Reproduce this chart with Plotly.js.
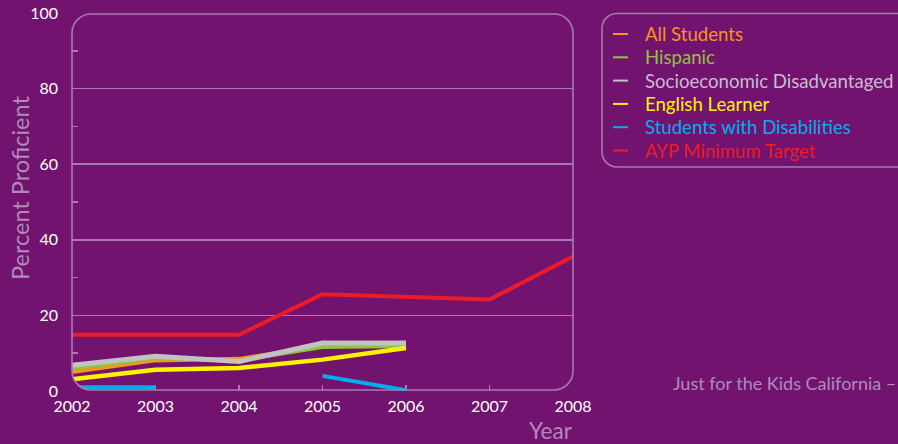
<!DOCTYPE html>
<html>
<head>
<meta charset="utf-8">
<script src="https://cdn.plot.ly/plotly-3.0.1.min.js"></script>
<style>html,body{margin:0;padding:0;background:#72146f;}#chart{width:898px;height:444px;}</style>
</head>
<body>
<div id="chart"></div>
<script>
// ---- data ----
const years = [2002, 2003, 2004, 2005, 2006, 2007, 2008];
const allStudents    = [5.0, 8.1, 8.5, 12.0, 12.0, null, null];
const hispanic       = [5.9, 8.6, 8.0, 11.5, 11.8, null, null];
const socioeconomic  = [6.8, 9.2, 7.8, 12.7, 12.7, null, null];
const englishLearner = [3.1, 5.6, 6.1, 8.3, 11.4, null, null];
const disabilities   = [1.0, 1.0, null, 4.0, 0.2, null, null];
const aypTarget      = [14.9, 14.9, 14.9, 25.6, 25.0, 24.2, 35.6];

const seriesNames = ['All Students', 'Hispanic', 'Socioeconomic Disadvantaged', 'English Learner', 'Students with Disabilities', 'AYP Minimum Target'];
const seriesValues = [allStudents, hispanic, socioeconomic, englishLearner, disabilities, aypTarget];
const yTickVals = [0, 20, 40, 60, 80, 100];
const yTickText = ['0', '20', '40', '60', '80', '100'];
const xTickText = years.map(String);
const yTitle = 'Percent Proficient';
const xTitle = 'Year';
const sourceText = 'Just for the Kids California \u2013';

// ---- styles ----
const bg = '#72146f';
const frameColor = '#a97aae';
const lavender = '#b08abb';
const lineColors = ['#f7941d', '#8dc63f', '#c2c2c2', '#fff200', '#00aeef', '#ed1c24'];
const textColors = ['#f7941d', '#8dc63f', '#c9bccd', '#fff200', '#00aeef', '#ed1c24'];
const lineWidths = [4, 3, 5, 4.5, 4, 4];
const drawOrder = [5, 0, 1, 2, 3, 4];
const FONT = 'Lato, "Open Sans", sans-serif';

// plot area in pixels
const L = 72, R = 573, T = 13, B = 391, W = 898, H = 444;
const pw = R - L, ph = B - T;
const px = v => (v - L) / pw;
const py = v => (B - v) / ph;
const P = (x, y) => `${px(x)},${py(y)}`;

const traces = drawOrder.map(i => ({
  type: 'scatter', mode: 'lines', x: years, y: seriesValues[i], name: seriesNames[i],
  line: {color: lineColors[i], width: lineWidths[i]}, connectgaps: false,
  showlegend: false, hoverinfo: 'x+y+name'
}));

const K = 0.5523;
// rounded rectangle path, pixel coords converted to paper
function roundRect(x0, y0, x1, y1, r) {
  // x0,y0 top-left ; x1,y1 bottom-right (pixels)
  const c = r * (1 - K);
  return `M${P(x0 + r, y0)} L${P(x1 - r, y0)} C${P(x1 - c, y0)} ${P(x1, y0 + c)} ${P(x1, y0 + r)} ` +
    `L${P(x1, y1 - r)} C${P(x1, y1 - c)} ${P(x1 - c, y1)} ${P(x1 - r, y1)} ` +
    `L${P(x0 + r, y1)} C${P(x0 + c, y1)} ${P(x0, y1 - c)} ${P(x0, y1 - r)} ` +
    `L${P(x0, y0 + r)} C${P(x0, y0 + c)} ${P(x0 + c, y0)} ${P(x0 + r, y0)} Z`;
}
function cornerMask(cx, cy, sx, sy, r) {
  // corner (cx,cy) in pixels; sx,sy = direction into the plot
  const c = r * (1 - K), o = 10;
  return `M${P(cx - sx * o, cy - sy * o)} L${P(cx - sx * o, cy + sy * r)} L${P(cx, cy + sy * r)} ` +
    `C${P(cx, cy + sy * c)} ${P(cx + sx * c, cy)} ${P(cx + sx * r, cy)} L${P(cx + sx * r, cy - sy * o)} Z`;
}
const rad = 19;
const shapes = [];
[[L, T, 1, 1], [R, T, -1, 1], [L, B, 1, -1], [R, B, -1, -1]].forEach(c => {
  shapes.push({type: 'path', xref: 'paper', yref: 'paper', path: cornerMask(c[0], c[1], c[2], c[3], rad),
    fillcolor: bg, line: {width: 0}, layer: 'above'});
});
shapes.push({type: 'path', xref: 'paper', yref: 'paper', path: roundRect(L, T + 1, R, B - 1, rad),
  fillcolor: 'rgba(0,0,0,0)', line: {color: frameColor, width: 1.6}, layer: 'above'});
// legend box
shapes.push({type: 'path', xref: 'paper', yref: 'paper', path: roundRect(602, 13.5, 912, 167, 15),
  fillcolor: 'rgba(0,0,0,0)', line: {color: frameColor, width: 1.6}, layer: 'above'});

const annotations = [];
const legendY0 = 34, legendDy = 23.3;
seriesNames.forEach((n, i) => {
  const yy = legendY0 + i * legendDy;
  shapes.push({type: 'line', xref: 'paper', yref: 'paper', x0: px(613), x1: px(628), y0: py(yy), y1: py(yy),
    line: {color: lineColors[i], width: 2}, layer: 'above'});
  annotations.push({xref: 'paper', yref: 'paper', x: px(643), y: py(yy), xanchor: 'left', yanchor: 'middle',
    text: n, showarrow: false, font: {family: FONT, size: 18.6, color: textColors[i]}});
});
annotations.push({xref: 'paper', yref: 'paper', x: px(20), y: py(188), text: yTitle, textangle: -90, showarrow: false,
  xanchor: 'center', yanchor: 'middle', font: {family: FONT, size: 23.5, color: lavender}});
annotations.push({xref: 'paper', yref: 'paper', x: 1, xshift: 2, y: py(430), text: xTitle, showarrow: false,
  xanchor: 'right', yanchor: 'middle', font: {family: FONT, size: 22.5, color: lavender}});
annotations.push({xref: 'paper', yref: 'paper', x: px(671), y: py(383), text: sourceText, showarrow: false,
  xanchor: 'left', yanchor: 'middle', font: {family: FONT, size: 18, color: lavender}});

const layout = {
  width: W, height: H,
  margin: {l: L, r: W - R, t: T, b: H - B, pad: 0},
  paper_bgcolor: bg, plot_bgcolor: bg,
  showlegend: false,
  font: {family: FONT, color: '#ffffff', size: 16},
  xaxis: {range: [2002, 2008], tickvals: years, ticktext: xTickText, showgrid: false, zeroline: false,
    showline: false, ticks: 'inside', ticklen: 6, tickwidth: 1.6, tickcolor: frameColor, ticklabelstandoff: 4,
    tickfont: {family: FONT, size: 16, color: '#ffffff'}, fixedrange: true},
  yaxis: {range: [0, 100], tickvals: yTickVals, ticktext: yTickText, showgrid: true, gridcolor: frameColor, gridwidth: 1.6,
    zeroline: false, showline: false, ticks: '', ticklabelstandoff: 13,
    minor: {tickvals: [10, 30, 50, 70, 90], ticks: 'inside', ticklen: 6, tickwidth: 1.6, tickcolor: frameColor, showgrid: false},
    tickfont: {family: FONT, size: 16, color: '#ffffff'}, fixedrange: true},
  shapes: shapes,
  annotations: annotations
};

Plotly.newPlot('chart', traces, layout, {displayModeBar: false, staticPlot: true});
</script>
</body>
</html>
